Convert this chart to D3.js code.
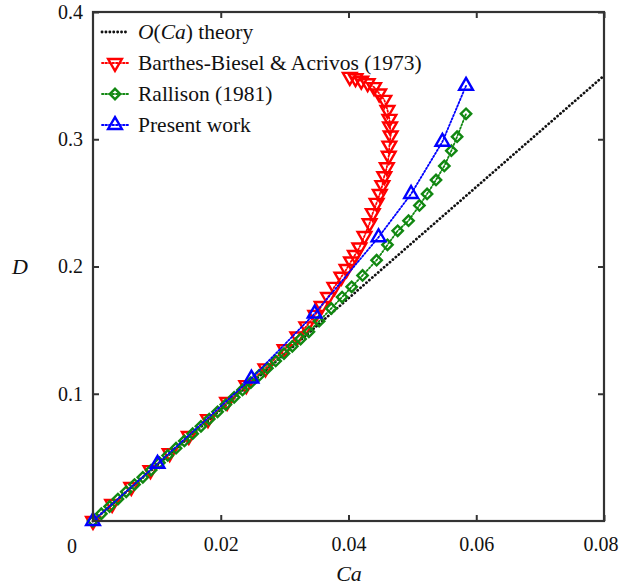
<!DOCTYPE html>
<html>
<head>
<meta charset="utf-8">
<script src="https://cdn.jsdelivr.net/npm/d3@7"></script>
<style>
body{margin:0;background:#fff;}
svg text{font-family:"Liberation Serif","DejaVu Serif",serif !important;fill:#111;}
</style>
</head>
<body>
<div id="chart"></div>
<script>
// O(Ca) theory : straight line
var theoryCa=[0,0.08];
var theoryD=[0,0.35];

// Barthes-Biesel & Acrivos (1973)
var bbCa=[0,0.003,0.006,0.009,0.012,0.015,0.018,0.021,0.024,0.027,0.03,0.032,0.0334,0.0348,0.0358,0.0368,0.0378,0.0389,0.0397,0.0404,0.041,0.0417,0.0425,0.0433,0.0438,0.0444,0.0449,0.0453,0.0456,0.046,0.0463,0.0464,0.0466,0.0465,0.0464,0.0461,0.0456,0.0448,0.044,0.043,0.042,0.0411,0.0402];
var bbD=[0,0.0134,0.0267,0.04,0.0534,0.0668,0.0801,0.0935,0.1068,0.12,0.135,0.145,0.153,0.162,0.169,0.176,0.184,0.192,0.198,0.204,0.209,0.215,0.224,0.234,0.242,0.25,0.257,0.264,0.271,0.278,0.287,0.295,0.303,0.31,0.316,0.323,0.331,0.336,0.341,0.344,0.346,0.348,0.349];

// Rallison (1981)
var raCa=[0,0.0013,0.0026,0.0039,0.0052,0.0065,0.0078,0.0091,0.0104,0.0117,0.013,0.0143,0.0156,0.0169,0.0182,0.0195,0.0208,0.0221,0.0234,0.0247,0.026,0.0273,0.0286,0.0299,0.0312,0.0325,0.0338,0.0354,0.0373,0.039,0.0405,0.0422,0.0444,0.0461,0.0477,0.0494,0.0511,0.0523,0.0537,0.055,0.0561,0.057,0.0584];
var raD=[0,0.0057,0.0114,0.0172,0.0229,0.0286,0.0343,0.04,0.0458,0.0515,0.0572,0.0629,0.0686,0.0744,0.0801,0.0858,0.0915,0.0972,0.103,0.1087,0.1144,0.1201,0.1258,0.1316,0.1373,0.143,0.1487,0.157,0.167,0.176,0.184,0.193,0.205,0.217,0.228,0.236,0.248,0.257,0.268,0.279,0.291,0.302,0.32];

// Present work
var pwCa=[0,0.0101,0.0248,0.0347,0.0447,0.0498,0.0547,0.0584];
var pwD=[0,0.045,0.112,0.163,0.223,0.257,0.298,0.342];

var xTicks=[0.02,0.04,0.06,0.08];
var yTicks=[0.1,0.2,0.3,0.4];

var width=620,height=587;
var svg=d3.select("#chart").append("svg")
	.attr("width",width)
	.attr("height",height);

var x=d3.scaleLinear().domain([0,0.08]).range([93,604]);
var y=d3.scaleLinear().domain([0,0.4]).range([521,12]);

function zip(a,b){ return a.map(function(v,i){ return [v,b[i]]; }); }

var series=[
	{name:"theory",data:zip(theoryCa,theoryD),color:"#111",dash:"0.1 3.8",w:2.8,marker:null},
	{name:"bb",data:zip(bbCa,bbD),color:"#ff0000",dash:"1.5 2",w:1.8,marker:"down"},
	{name:"ra",data:zip(raCa,raD),color:"#118811",dash:"1.5 2",w:1.8,marker:"diamond"},
	{name:"pw",data:zip(pwCa,pwD),color:"#0000ff",dash:"1.5 2",w:1.8,marker:"up"}
];

var tri=d3.symbol().type(d3.symbolTriangle).size(82);
var dia=d3.symbol().type(d3.symbolSquare).size(54);

function markerPath(sel,m){
	if(m=="diamond") sel.attr("d",dia());
	else sel.attr("d",tri());
}
function markerRot(m){
	if(m=="down") return " rotate(180)";
	if(m=="diamond") return " rotate(45)";
	return "";
}

var line=d3.line().x(function(d){return x(d[0]);}).y(function(d){return y(d[1]);});

series.forEach(function(s){
	svg.append("path")
		.datum(s.data)
		.attr("d",line)
		.attr("fill","none")
		.attr("stroke",s.color)
		.attr("stroke-width",s.w)
		.attr("stroke-dasharray",s.dash)
		.attr("stroke-linecap","round");
	if(s.marker){
		svg.selectAll(".m_"+s.name)
			.data(s.data)
			.enter().append("path")
			.attr("class","m_"+s.name)
			.call(markerPath,s.marker)
			.attr("transform",function(d){ return "translate("+x(d[0])+","+y(d[1])+")"+markerRot(s.marker); })
			.attr("fill","none")
			.attr("stroke",s.color)
			.attr("stroke-width",2.4);
	}
});

// axes
var gx=svg.append("g").attr("transform","translate(0,521)")
	.call(d3.axisBottom(x).tickValues(xTicks).tickSizeInner(-6).tickSizeOuter(0).tickPadding(16)
		.tickFormat(function(d){ return d3.format(".2f")(d).replace(/0$/,""); }));
var gt=svg.append("g").attr("transform","translate(0,12)")
	.call(d3.axisTop(x).tickValues(xTicks).tickSizeInner(-6).tickSizeOuter(0).tickFormat(""));
var gy=svg.append("g").attr("transform","translate(93,0)")
	.call(d3.axisLeft(y).tickValues(yTicks).tickSizeInner(-6).tickSizeOuter(0).tickPadding(10)
		.tickFormat(d3.format(".1f")));
var gr=svg.append("g").attr("transform","translate(604,0)")
	.call(d3.axisRight(y).tickValues(yTicks).tickSizeInner(-6).tickSizeOuter(0).tickFormat(""));

[gx,gt,gy,gr].forEach(function(g){
	g.attr("font-family","'Liberation Serif',serif").attr("font-size",20);
	g.select(".domain").remove();
	g.selectAll("line").attr("stroke","#333").attr("stroke-width",2);
	g.selectAll("text").attr("fill","#111");
});
// last x label sits against the right edge
gx.selectAll(".tick text").filter(function(d){ return d==0.08; })
	.attr("text-anchor","end").attr("x",14);

svg.append("rect")
	.attr("x",93).attr("y",12)
	.attr("width",604-93).attr("height",521-12)
	.attr("fill","none")
	.attr("stroke","#333")
	.attr("stroke-width",2.2);

svg.append("text").attr("x",72).attr("y",553).attr("text-anchor","middle")
	.style("font-size","20px").text("0");

svg.append("text").attr("x",349).attr("y",581).attr("text-anchor","middle")
	.style("font-size","22px").style("font-style","italic").text("Ca");
svg.append("text").attr("x",20).attr("y",274).attr("text-anchor","middle")
	.style("font-size","22px").style("font-style","italic").text("D");

// legend
var leg=[
	{color:"#111",dash:"0.1 3.8",w:2.8,marker:null,label:[["O","italic"],["(","normal"],["Ca","italic"],[") theory","normal"]]},
	{color:"#ff0000",dash:"1.5 2",w:1.8,marker:"down",label:[["Barthes-Biesel & Acrivos (1973)","normal"]]},
	{color:"#118811",dash:"1.5 2",w:1.8,marker:"diamond",label:[["Rallison (1981)","normal"]]},
	{color:"#0000ff",dash:"1.5 2",w:1.8,marker:"up",label:[["Present work","normal"]]}
];
leg.forEach(function(l,i){
	var cy=32+i*31;
	svg.append("line")
		.attr("x1",102).attr("x2",129).attr("y1",cy).attr("y2",cy)
		.attr("stroke",l.color).attr("stroke-width",l.w)
		.attr("stroke-dasharray",l.dash).attr("stroke-linecap","round");
	if(l.marker){
		svg.append("path")
			.call(markerPath,l.marker)
			.attr("transform","translate(115,"+cy+")"+markerRot(l.marker))
			.attr("fill","none").attr("stroke",l.color).attr("stroke-width",2.4);
	}
	var t=svg.append("text").attr("x",138).attr("y",cy+7).style("font-size","21.5px");
	l.label.forEach(function(p){
		t.append("tspan").style("font-style",p[1]).text(p[0]);
	});
});
</script>
</body>
</html>
